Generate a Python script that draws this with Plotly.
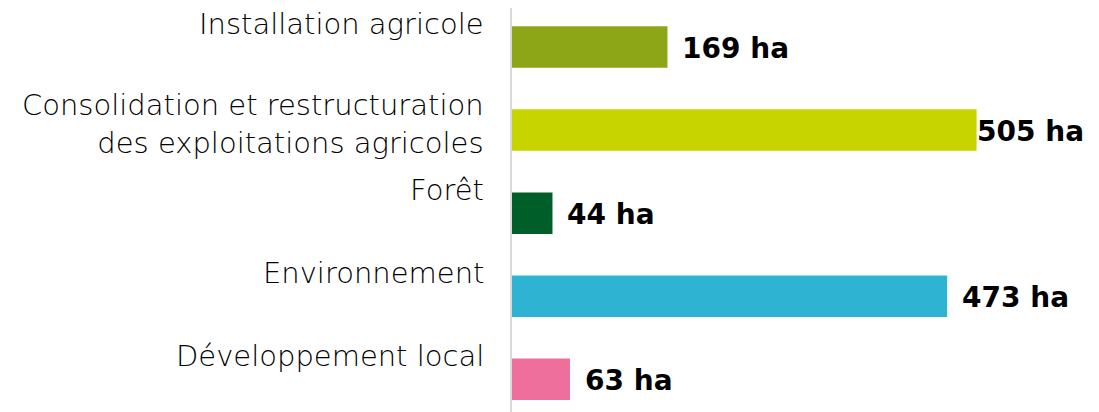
import plotly.graph_objects as go

categories = [
    "Installation agricole",
    "Consolidation et restructuration<br>des exploitations agricoles",
    "Forêt",
    "Environnement",
    "Développement local",
]
values = [169, 505, 44, 473, 63]
value_labels = ["169 ha", "505 ha", "44 ha", "473 ha", "63 ha"]
colors = ["#8CA618", "#C8D400", "#005F28", "#2EB3D3", "#EE6F9C"]

positions = list(range(len(categories)))

fig = go.Figure(
    go.Bar(
        x=values,
        y=positions,
        orientation="h",
        width=0.5,
        marker=dict(color=colors, line=dict(width=0)),
        hoverinfo="skip",
    )
)

annotations = []
vmax = max(values)
for p, cat, v, lab in zip(positions, categories, values, value_labels):
    nlines = cat.count("<br>") + 1
    annotations.append(dict(
        x=0, y=p, xref="x", yref="y", text=cat, showarrow=False,
        xanchor="right", yanchor="middle", align="right",
        xshift=-26, yshift=23 if nlines == 1 else 6,
        font=dict(family="DejaVu Sans", size=29, color="#000000", weight=300),
    ))
    annotations.append(dict(
        x=v, y=p, xref="x", yref="y", text=lab, showarrow=False,
        xanchor="left", yanchor="middle",
        xshift=-2 if v == vmax else 13, yshift=-1,
        font=dict(family="DejaVu Sans", size=28, color="#000000", weight="bold"),
    ))

fig.update_layout(
    width=1099, height=412,
    margin=dict(l=504, r=20, t=0, b=0),
    paper_bgcolor="white", plot_bgcolor="white",
    showlegend=False,
    xaxis=dict(range=[0, 625], visible=False, fixedrange=True),
    yaxis=dict(range=[4.49, -0.47], showticklabels=False, ticks="",
               showgrid=False, zeroline=False,
               showline=True, linecolor="#d9d9d9", linewidth=2),
    annotations=annotations,
)

fig.write_html("out.html")
